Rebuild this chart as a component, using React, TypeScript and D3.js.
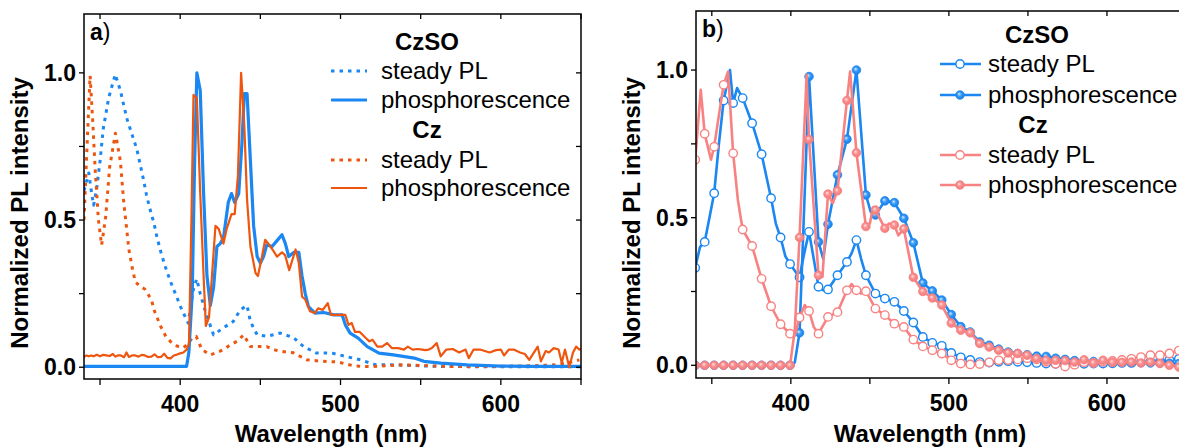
import React from 'react';
import * as d3 from 'd3';

// ---------- Panel a) data ----------
const aCzSOSteadyWl = [340, 343, 344.5, 346, 348, 350, 352, 355.4, 359.5, 362.7, 364.8, 367, 370, 373, 375, 377, 379, 381, 383.6, 385.6, 388, 390.8, 394, 397.7, 401, 405, 408, 410.3, 412.5, 415.7, 420.8, 427, 433, 437.5, 441.7, 443.8, 448, 454, 462.5, 470.8, 477, 485, 494.8, 503, 512.5, 522, 531, 545, 560, 580, 600, 620, 650];
const aCzSOSteadyVal = [0.6, 0.66, 0.6, 0.55, 0.61, 0.7, 0.81, 0.915, 0.995, 0.94, 0.89, 0.84, 0.79, 0.74, 0.69, 0.64, 0.585, 0.54, 0.49, 0.44, 0.39, 0.34, 0.29, 0.24, 0.195, 0.15, 0.26, 0.3, 0.25, 0.19, 0.11, 0.134, 0.155, 0.195, 0.21, 0.155, 0.11, 0.105, 0.116, 0.1, 0.07, 0.048, 0.048, 0.037, 0.025, 0.008, 0.008, 0.006, 0.003, 0.002, 0.002, 0.002, 0.002];

const aCzSteadyWl = [340, 341.5, 343.8, 345.5, 347, 349, 351, 353.5, 356, 359.6, 362.7, 364.8, 366, 368, 370, 372, 375, 378, 382, 384, 387.7, 391, 394, 398, 402, 405, 407.5, 410, 413.5, 418.8, 423, 427, 431, 435.4, 439.6, 443.8, 449, 454, 458, 462.5, 470.6, 479, 489, 498, 508, 518, 528, 537, 550, 565, 580, 600, 620, 633, 642, 649];
const aCzSteadyVal = [0.5, 0.7, 0.99, 0.83, 0.67, 0.5, 0.415, 0.51, 0.68, 0.795, 0.7, 0.56, 0.5, 0.4, 0.34, 0.29, 0.275, 0.265, 0.23, 0.19, 0.14, 0.105, 0.087, 0.072, 0.066, 0.08, 0.1, 0.105, 0.06, 0.042, 0.05, 0.06, 0.075, 0.088, 0.11, 0.07, 0.07, 0.07, 0.06, 0.054, 0.049, 0.025, 0.02, 0.018, 0.005, 0.002, 0.005, 0.008, 0.006, 0.003, 0.002, 0.003, 0.005, 0.008, 0.015, 0.025];

const aCzSOPhosWl = [340, 404, 405.4, 407.5, 409, 410.4, 412.5, 414.6, 416.7, 418.8, 420.8, 422.9, 425, 427, 430, 432, 434, 436.5, 438.5, 440, 441.7, 443.8, 445.8, 448, 450, 452, 454, 457.3, 460.4, 463.5, 465.6, 467.7, 470.8, 474, 476, 478, 480, 484, 489.6, 495.8, 501, 503, 506, 511, 516.7, 524, 533, 546, 552, 562.5, 579, 600, 620, 650];
const aCzSOPhosVal = [0.003, 0.003, 0.05, 0.25, 0.7, 1.0, 0.94, 0.59, 0.31, 0.21, 0.27, 0.41, 0.42, 0.44, 0.56, 0.59, 0.56, 0.59, 0.76, 0.93, 0.93, 0.7, 0.48, 0.376, 0.354, 0.376, 0.416, 0.41, 0.43, 0.45, 0.42, 0.376, 0.39, 0.39, 0.31, 0.25, 0.206, 0.184, 0.186, 0.178, 0.178, 0.144, 0.116, 0.099, 0.07, 0.048, 0.042, 0.031, 0.02, 0.014, 0.008, 0.004, 0.003, 0.003];

const aCzPhosWl = [340, 341.5, 343, 344.5, 346, 348, 350, 352, 354, 356, 358, 359.5, 361, 363, 365, 366.5, 368, 370, 372, 374, 376, 378, 380, 382, 384, 386, 388, 390, 392, 394, 396, 398, 400, 402, 404, 405.5, 407, 408.3, 410.4, 412.5, 414.6, 416, 418, 419.8, 422, 424, 427, 429, 432, 434, 436, 438, 440, 441.7, 443.8, 447, 448.5, 451, 453, 455, 457.5, 460.4, 463.5, 465.5, 468, 472, 474, 476, 478, 481, 484, 486, 489, 492, 494, 500, 503, 505, 507, 509, 512, 515.6, 518, 520, 523, 526, 529, 532, 536, 539.6, 542, 545, 548, 551, 553, 555, 557, 560, 562.5, 566, 570, 574, 578, 580, 583, 587, 590, 593, 597, 600, 602, 605, 608, 612, 615, 617.7, 623, 625, 628, 630, 633, 636, 638, 640, 642.7, 645, 647, 649, 650];
const aCzPhosVal = [0.035, 0.04, 0.037, 0.04, 0.037, 0.042, 0.037, 0.042, 0.04, 0.038, 0.045, 0.036, 0.04, 0.04, 0.034, 0.05, 0.035, 0.04, 0.04, 0.036, 0.042, 0.04, 0.035, 0.036, 0.044, 0.034, 0.035, 0.046, 0.032, 0.03, 0.04, 0.043, 0.047, 0.05, 0.06, 0.08, 0.5, 0.925, 0.914, 0.59, 0.31, 0.14, 0.17, 0.31, 0.48, 0.47, 0.42, 0.47, 0.52, 0.52, 0.65, 1.0, 0.82, 0.57, 0.41, 0.32, 0.31, 0.376, 0.433, 0.42, 0.4, 0.376, 0.39, 0.38, 0.33, 0.4, 0.354, 0.24, 0.23, 0.19, 0.184, 0.2, 0.195, 0.218, 0.178, 0.178, 0.178, 0.144, 0.15, 0.12, 0.12, 0.1, 0.088, 0.093, 0.07, 0.07, 0.082, 0.065, 0.065, 0.06, 0.07, 0.06, 0.062, 0.06, 0.058, 0.06, 0.065, 0.082, 0.037, 0.06, 0.062, 0.05, 0.06, 0.031, 0.06, 0.06, 0.055, 0.05, 0.058, 0.06, 0.04, 0.06, 0.06, 0.05, 0.045, 0.025, 0.07, 0.02, 0.055, 0.05, 0.065, 0.06, 0.015, 0.06, 0.0, 0.05, 0.07, 0.06, 0.062];

// ---------- Panel b) data ----------
const bCzSOSteadyWl = [339.5, 342.5, 345.5, 348.5, 351.5, 354.5, 357.5, 361.5, 363.5, 366, 369.5, 375.5, 381.5, 387.5, 390.5, 393.5, 396.5, 399.5, 402.5, 405.5, 408.5, 411.5, 414.5, 417.5, 420.5, 423.5, 429.5, 435.5, 438.5, 441.5, 444.5, 447.5, 453.5, 459.5, 465.5, 471.5, 477.5, 483.5, 489.5, 495.5, 501.5, 507.5, 513.5, 519.5, 525.5, 531.5, 537.5, 543.5, 549.5, 555.5, 561.5, 567.5, 573.5, 579.5, 585.5, 591.5, 597.5, 603.5, 609.5, 615.5, 621.5, 627.5, 633.5, 639.5, 645.5, 648.5];
const bCzSOSteadyVal = [0.33, 0.4, 0.418, 0.5, 0.583, 0.75, 0.897, 1.0, 0.888, 0.939, 0.905, 0.82, 0.715, 0.566, 0.48, 0.433, 0.37, 0.343, 0.32, 0.298, 0.38, 0.452, 0.36, 0.266, 0.254, 0.257, 0.305, 0.35, 0.38, 0.424, 0.36, 0.305, 0.243, 0.226, 0.215, 0.184, 0.145, 0.096, 0.076, 0.066, 0.042, 0.027, 0.018, 0.011, 0.009, 0.012, 0.014, 0.012, 0.01, 0.008, 0.006, 0.005, 0.004, 0.005, 0.005, 0.006, 0.006, 0.007, 0.008, 0.008, 0.01, 0.012, 0.014, 0.018, 0.022, 0.025];

const bCzSOPhosWl = [339.5, 345.5, 351.5, 357.5, 363.5, 369.5, 375.5, 381.5, 387.5, 393.5, 399.5, 402.5, 405.5, 411.5, 417.5, 420.5, 423.5, 429.5, 435.5, 441.5, 447.5, 450.5, 453.5, 459.5, 465.5, 471.5, 477.5, 483.5, 489.5, 495.5, 501.5, 507.5, 513.5, 519.5, 525.5, 531.5, 537.5, 543.5, 549.5, 555.5, 561.5, 567.5, 573.5, 579.5, 585.5, 591.5, 597.5, 603.5, 609.5, 615.5, 621.5, 627.5, 633.5, 639.5, 645.5, 648.5];
const bCzSOPhosVal = [0, 0, 0, 0, 0, 0, 0, 0, 0, 0, 0, 0.01, 0.11, 0.978, 0.418, 0.36, 0.478, 0.645, 0.766, 1.0, 0.577, 0.52, 0.509, 0.557, 0.551, 0.498, 0.415, 0.279, 0.252, 0.221, 0.172, 0.131, 0.113, 0.079, 0.068, 0.055, 0.045, 0.04, 0.036, 0.031, 0.03, 0.024, 0.02, 0.016, 0.015, 0.013, 0.012, 0.011, 0.01, 0.01, 0.009, 0.008, 0.008, 0.007, 0.006, 0.006];

const bCzSteadyWl = [339.5, 343, 345.5, 349.5, 351.5, 355, 357.5, 360.3, 363.5, 366.5, 369.5, 375.5, 381.5, 387.5, 393.5, 399.5, 402.5, 405.5, 408.8, 411.5, 414.5, 417.5, 423.5, 429.5, 435.5, 438.5, 441.5, 444.5, 447.5, 453.5, 459.5, 465.5, 471.5, 477.5, 483.5, 489.5, 495.5, 501.5, 507.5, 513.5, 519.5, 525.5, 531.5, 537.5, 543.5, 549.5, 555.5, 561.5, 567.5, 573.5, 579.5, 585.5, 591.5, 597.5, 603.5, 609.5, 615.5, 621.5, 627.5, 633.5, 639.5, 645.5, 648.5];
const bCzSteadyVal = [0.696, 0.933, 0.784, 0.696, 0.74, 0.865, 0.95, 0.995, 0.718, 0.56, 0.46, 0.404, 0.293, 0.2, 0.139, 0.107, 0.1, 0.162, 0.204, 0.184, 0.13, 0.107, 0.164, 0.18, 0.254, 0.275, 0.254, 0.243, 0.251, 0.192, 0.17, 0.141, 0.13, 0.087, 0.064, 0.051, 0.04, 0.017, 0.006, 0.003, 0.004, 0.01, 0.017, 0.018, 0.02, 0.024, 0.02, 0.012, 0.005, -0.004, 0.002, 0.01, 0.008, 0.012, 0.015, 0.018, 0.022, 0.028, 0.034, 0.034, 0.04, 0.05, 0.056];

const bCzPhosWl = [339.5, 345.5, 351.5, 357.5, 363.5, 369.5, 375.5, 381.5, 387.5, 393.5, 399.5, 402.5, 405.5, 410, 411.5, 417.5, 420, 423.5, 426.5, 429.5, 435.5, 437.5, 441.5, 447.5, 450, 452, 453.5, 456, 459.5, 462, 465.5, 468, 471.5, 477.5, 483.5, 489.5, 495.5, 501.5, 507.5, 513.5, 519.5, 525.5, 531.5, 537.5, 543.5, 549.5, 555.5, 561.5, 567.5, 573.5, 579.5, 585.5, 591.5, 597.5, 603.5, 609.5, 615.5, 621.5, 627.5, 633.5, 639.5, 645.5, 648.5];
const bCzPhosVal = [0, 0, 0, 0, 0, 0, 0, 0, 0, 0, 0, 0.12, 0.433, 0.984, 0.765, 0.305, 0.3, 0.58, 0.549, 0.591, 0.897, 0.995, 0.72, 0.47, 0.48, 0.535, 0.526, 0.5, 0.464, 0.48, 0.475, 0.44, 0.462, 0.298, 0.25, 0.228, 0.204, 0.143, 0.119, 0.11, 0.074, 0.062, 0.051, 0.042, 0.04, 0.034, 0.023, 0.017, 0.017, 0.016, 0.011, 0.019, 0.008, 0.017, 0.01, 0.01, 0.011, 0.008, 0.011, 0.006, 0.0, -0.006, -0.006];

// ---------- axes ----------
const xMajorTicks = [400, 500, 600];
const xMinorTicks = [350, 450, 550, 650];
const yMajorTicks = [0, 0.5, 1.0];
const yMinorTicks = [0.25, 0.75];
const xTitle = 'Wavelength (nm)';
const yTitle = 'Normalized PL intensity';
const legendGroups = ['CzSO', 'Cz'];
const legendItems = ['steady PL', 'phosphorescence'];

const BLUE = '#1a87f2';
const ORANGE = '#ee560f';
const PINK = '#f88282';
const FONT = '"Liberation Sans", Arial, sans-serif';

type Frame = { left: number; right: number; top: number; bottom: number; yMin: number; label: string; id: string };

function Axes({ f, x, y }: { f: Frame; x: d3.ScaleLinear<number, number>; y: d3.ScaleLinear<number, number> }) {
  const tl = 6;
  const els: React.ReactNode[] = [];
  [...xMajorTicks, ...xMinorTicks].forEach((t, i) => {
    const px = x(t);
    els.push(<line key={'xb' + i} x1={px} x2={px} y1={f.bottom} y2={f.bottom + tl} stroke="#000" strokeWidth={1.3} />);
    els.push(<line key={'xt' + i} x1={px} x2={px} y1={f.top} y2={f.top + tl - 1} stroke="#000" strokeWidth={1.3} />);
  });
  [...yMajorTicks, ...yMinorTicks].forEach((t, i) => {
    const py = y(t);
    els.push(<line key={'yl' + i} x1={f.left - tl + 1} x2={f.left} y1={py} y2={py} stroke="#000" strokeWidth={1.3} />);
    els.push(<line key={'yr' + i} x1={f.right - tl + 1} x2={f.right} y1={py} y2={py} stroke="#000" strokeWidth={1.3} />);
  });
  xMajorTicks.forEach((t) => {
    els.push(
      <text key={'xl' + t} x={x(t)} y={f.bottom + 33} textAnchor="middle" fontSize={23} fontWeight="bold" fontFamily={FONT}>
        {t}
      </text>
    );
  });
  yMajorTicks.forEach((t) => {
    els.push(
      <text key={'ylab' + t} x={f.left - 8} y={y(t) + 8} textAnchor="end" fontSize={23} fontWeight="bold" fontFamily={FONT}>
        {t.toFixed(1)}
      </text>
    );
  });
  els.push(
    <text key="xtitle" x={f.id === 'a' ? 331 : 930} y={442} textAnchor="middle" fontSize={24} fontWeight="bold" fontFamily={FONT}>
      {xTitle}
    </text>
  );
  const ty = 213;
  const tx = f.left - 56;
  els.push(
    <text key="ytitle" transform={`translate(${tx},${ty}) rotate(-90)`} textAnchor="middle" fontSize={24} fontWeight="bold" fontFamily={FONT}>
      {yTitle}
    </text>
  );
  els.push(
    <text key="plabel" x={f.left + 6} y={f.top + 26} fontSize={23} fontFamily={FONT}>
      <tspan fontWeight="bold">{f.label}</tspan>)
    </text>
  );
  els.push(<rect key="frame" x={f.left} y={f.top} width={f.right - f.left} height={f.bottom - f.top} fill="none" stroke="#000" strokeWidth={1.5} />);
  return <g>{els}</g>;
}

function zip(xs: number[], ys: number[]): [number, number][] {
  return xs.map((v, i) => [v, ys[i]]);
}

const isMarker = (wl: number) => {
  const k = (wl - 339.5) / 6;
  return Math.abs(k - Math.round(k)) < 1e-6;
};

export default function App() {
  const fa: Frame = { left: 84, right: 581, top: 14, bottom: 379, yMin: -0.04, label: 'a', id: 'a' };
  const fb: Frame = { left: 696, right: 1186, top: 11, bottom: 378, yMin: -0.043, label: 'b', id: 'b' };
  const xa = d3.scaleLinear().domain([340, 650]).range([fa.left, fa.right]);
  const ya = d3.scaleLinear().domain([fa.yMin, 1.2]).range([fa.bottom, fa.top]);
  const xb = d3.scaleLinear().domain([340, 650]).range([fb.left, fb.right]);
  const yb = d3.scaleLinear().domain([fb.yMin, 1.2]).range([fb.bottom, fb.top]);
  const la = d3.line<[number, number]>().x((d) => xa(d[0])).y((d) => ya(d[1]));
  const lb = d3.line<[number, number]>().x((d) => xb(d[0])).y((d) => yb(d[1]));

  const aSeries = [
    { wl: aCzSOSteadyWl, v: aCzSOSteadyVal, color: BLUE, w: 3, dash: '3.5,5' },
    { wl: aCzSteadyWl, v: aCzSteadyVal, color: ORANGE, w: 3, dash: '3.5,5' },
    { wl: aCzSOPhosWl, v: aCzSOPhosVal, color: BLUE, w: 3.2, dash: undefined },
    { wl: aCzPhosWl, v: aCzPhosVal, color: ORANGE, w: 2.2, dash: undefined },
  ];
  const bSeries = [
    { wl: bCzSOSteadyWl, v: bCzSOSteadyVal, color: BLUE, filled: false, grad: '' },
    { wl: bCzSOPhosWl, v: bCzSOPhosVal, color: BLUE, filled: true, grad: 'gBlue' },
    { wl: bCzSteadyWl, v: bCzSteadyVal, color: PINK, filled: false, grad: '' },
    { wl: bCzPhosWl, v: bCzPhosVal, color: PINK, filled: true, grad: 'gPink' },
  ];

  const marker = (cx: number, cy: number, color: string, filled: boolean, grad: string, key: string) =>
    filled ? (
      <circle key={key} cx={cx} cy={cy} r={4.3} fill={`url(#${grad})`} stroke={color} strokeWidth={0.8} />
    ) : (
      <circle key={key} cx={cx} cy={cy} r={4.2} fill="#fff" stroke={color} strokeWidth={1.4} />
    );

  const legA: React.ReactNode[] = [];
  const legAy = [71, 100, 160, 188];
  const legAStyles = [aSeries[0], aSeries[2], aSeries[1], aSeries[3]];
  legAy.forEach((ly, i) => {
    const s = legAStyles[i];
    legA.push(<line key={'la' + i} x1={331} x2={367} y1={ly} y2={ly} stroke={s.color} strokeWidth={s.w} strokeDasharray={s.dash} />);
    legA.push(
      <text key={'lat' + i} x={381} y={ly + 8} fontSize={24} fontFamily={FONT}>
        {legendItems[i % 2]}
      </text>
    );
  });
  legA.push(<text key="lah0" x={427} y={50} textAnchor="middle" fontSize={24} fontWeight="bold" fontFamily={FONT}>{legendGroups[0]}</text>);
  legA.push(<text key="lah1" x={427} y={138} textAnchor="middle" fontSize={24} fontWeight="bold" fontFamily={FONT}>{legendGroups[1]}</text>);

  const legB: React.ReactNode[] = [];
  const legBy = [64, 95, 155, 185];
  legBy.forEach((ly, i) => {
    const s = bSeries[i];
    legB.push(<line key={'lb' + i} x1={940} x2={981} y1={ly} y2={ly} stroke={s.color} strokeWidth={2.6} />);
    legB.push(marker(960, ly, s.color, s.filled, s.grad, 'lbm' + i));
    legB.push(
      <text key={'lbt' + i} x={988} y={ly + 8} fontSize={24} fontFamily={FONT}>
        {legendItems[i % 2]}
      </text>
    );
  });
  legB.push(<text key="lbh0" x={1037} y={43} textAnchor="middle" fontSize={24} fontWeight="bold" fontFamily={FONT}>{legendGroups[0]}</text>);
  legB.push(<text key="lbh1" x={1033} y={133} textAnchor="middle" fontSize={24} fontWeight="bold" fontFamily={FONT}>{legendGroups[1]}</text>);

  return (
    <svg width={1179} height={448} style={{ position: 'absolute', left: 0, top: 0, background: '#fff' }}>
      <defs>
        <clipPath id="clipA">
          <rect x={fa.left} y={fa.top} width={fa.right - fa.left} height={fa.bottom - fa.top} />
        </clipPath>
        <clipPath id="clipB">
          <rect x={fb.left} y={fb.top} width={fb.right - fb.left} height={fb.bottom - fb.top} />
        </clipPath>
        <radialGradient id="gBlue" cx="50%" cy="50%" r="55%" fx="38%" fy="35%">
          <stop offset="0%" stopColor="#d8ecff" />
          <stop offset="45%" stopColor="#3a9af5" />
          <stop offset="100%" stopColor="#0f7ae6" />
        </radialGradient>
        <radialGradient id="gPink" cx="50%" cy="50%" r="55%" fx="38%" fy="35%">
          <stop offset="0%" stopColor="#ffe2e2" />
          <stop offset="45%" stopColor="#f99090" />
          <stop offset="100%" stopColor="#f27676" />
        </radialGradient>
      </defs>
      <rect x={0} y={0} width={1179} height={448} fill="#fff" />
      <g clipPath="url(#clipA)">
        {aSeries.map((s, i) => (
          <path key={'pa' + i} d={la(zip(s.wl, s.v)) || ''} fill="none" stroke={s.color} strokeWidth={s.w} strokeDasharray={s.dash} strokeLinejoin="round" />
        ))}
      </g>
      <Axes f={fa} x={xa} y={ya} />
      {legA}
      <g clipPath="url(#clipB)">
        {bSeries.map((s, i) => (
          <g key={'gb' + i}>
            <path d={lb(zip(s.wl, s.v)) || ''} fill="none" stroke={s.color} strokeWidth={2.6} strokeLinejoin="round" />
            {s.wl.map((w, j) => (isMarker(w) ? marker(xb(w), yb(s.v[j]), s.color, s.filled, s.grad, 'm' + i + '_' + j) : null))}
          </g>
        ))}
      </g>
      <Axes f={fb} x={xb} y={yb} />
      {legB}
    </svg>
  );
}
